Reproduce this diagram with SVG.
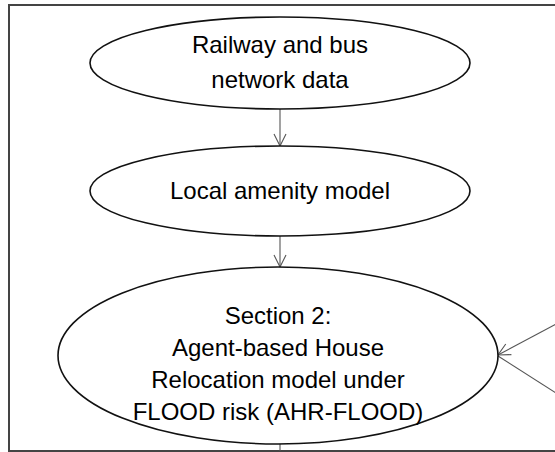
<svg xmlns="http://www.w3.org/2000/svg" width="555" height="452" viewBox="0 0 555 452">
<style>
.node{fill:#fff;stroke:#111;stroke-width:1.6}
.lbl{font-family:"Liberation Sans",Arial,sans-serif;font-size:24px;fill:#000;text-anchor:middle}
.conn{fill:none;stroke:#555;stroke-width:1.1}
.frame{fill:none;stroke:#444;stroke-width:2}
</style>
<defs>
<marker id="vee" viewBox="0 0 14 14" refX="13" refY="7" markerWidth="14" markerHeight="14" markerUnits="userSpaceOnUse" orient="auto">
<path d="M1,1 L13,7 L1,13" fill="none" stroke="#555" stroke-width="1.1"/>
</marker>
</defs>
<rect width="555" height="452" fill="#fff"/>
<path class="frame" d="M556,5 H9 V451 H556"/>
<g id="connectors">
<line class="conn" x1="280" y1="109" x2="280" y2="146" marker-end="url(#vee)"/>
<line class="conn" x1="280" y1="236" x2="280" y2="267" marker-end="url(#vee)"/>
<line class="conn" x1="556" y1="324" x2="498" y2="355" marker-end="url(#vee)"/>
<line class="conn" x1="498" y1="356" x2="556" y2="393"/>
<line class="conn" x1="280" y1="444" x2="280" y2="451"/>
</g>
<g id="railway">
<ellipse class="node" cx="280" cy="63" rx="190" ry="46"/>
<text class="lbl" x="280" y="53">Railway and bus</text>
<text class="lbl" x="280" y="88">network data</text>
</g>
<g id="amenity">
<ellipse class="node" cx="280" cy="191" rx="190" ry="45"/>
<text class="lbl" x="280" y="199">Local amenity model</text>
</g>
<g id="ahr-flood">
<ellipse class="node" cx="278" cy="355.5" rx="220" ry="88.5"/>
<text class="lbl" x="278" y="324">Section 2:</text>
<text class="lbl" x="278" y="356">Agent-based House</text>
<text class="lbl" x="278" y="388">Relocation model under</text>
<text class="lbl" x="278" y="420">FLOOD risk (AHR-FLOOD)</text>
</g>
</svg>
